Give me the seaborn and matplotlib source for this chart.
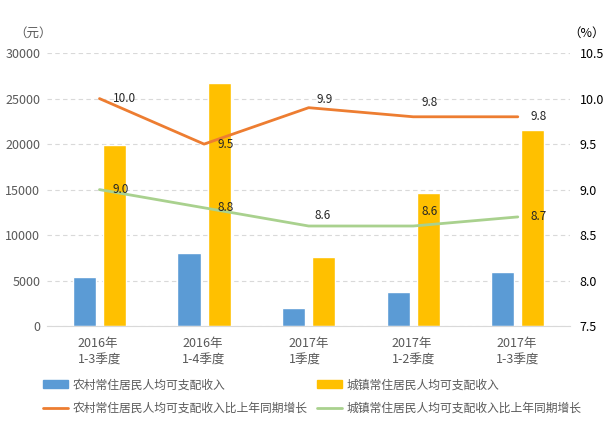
import numpy as np
import pandas as pd
import matplotlib
matplotlib.use("Agg")
import matplotlib.pyplot as plt
import seaborn as sns
from matplotlib.patches import Patch
from matplotlib.lines import Line2D

# ==============================
# Data
# ==============================
periods = ["2016年\n1-3季度", "2016年\n1-4季度", "2017年\n1季度", "2017年\n1-2季度", "2017年\n1-3季度"]
rural_income = [5400, 8000, 2000, 3750, 5950]
urban_income = [19900, 26700, 7600, 14600, 21500]
rural_growth = [10.0, 9.5, 9.9, 9.8, 9.8]
urban_growth = [9.0, 8.8, 8.6, 8.6, 8.7]

rural_name = "农村常住居民人均可支配收入"
urban_name = "城镇常住居民人均可支配收入"
rural_g_name = "农村常住居民人均可支配收入比上年同期增长"
urban_g_name = "城镇常住居民人均可支配收入比上年同期增长"

C_BLUE = "#5B9BD5"
C_GOLD = "#FFC000"
C_ORANGE = "#ED7D31"
C_GREEN = "#A9D18E"
TXT = "#595959"

sns.set_style("white")
plt.rcParams["font.family"] = ["Noto Sans CJK SC", "DejaVu Sans"]

df = pd.DataFrame({
    "period": periods * 2,
    "income": rural_income + urban_income,
    "kind": [rural_name] * len(periods) + [urban_name] * len(periods),
})

fig = plt.figure(figsize=(6.13, 4.28), dpi=100)
ax = fig.add_axes([0.077, 0.238, 0.853, 0.638])

sns.barplot(data=df, x="period", y="income", hue="kind", order=periods,
            palette=[C_BLUE, C_GOLD], saturation=1, width=0.577, gap=0.236,
            legend=False, ax=ax, zorder=2)

ax.set_ylim(0, 30000)
ax.set_yticks(np.arange(0, 30001, 5000))
ax.set_xlim(-0.5, len(periods) - 0.5)
ax.set_xlabel("")
ax.set_ylabel("")
ax.yaxis.grid(True, color="#D9D9D9", linestyle=(0, (4, 3)), linewidth=0.8, zorder=0)
ax.set_axisbelow(True)
for s in ["top", "left", "right"]:
    ax.spines[s].set_visible(False)
ax.spines["bottom"].set_color("#D9D9D9")
ax.tick_params(axis="y", length=0, labelsize=9, colors=TXT, pad=5)
ax.tick_params(axis="x", length=0, labelsize=9, colors=TXT, pad=8)
for lab in ax.get_xticklabels():
    lab.set_multialignment("left")
    lab.set_linespacing(1.3)

# ==============================
# Growth lines (right axis)
# ==============================
ax2 = ax.twinx()
xs = np.arange(len(periods))
sns.lineplot(x=xs, y=rural_growth, color=C_ORANGE, linewidth=2, ax=ax2, zorder=3)
sns.lineplot(x=xs, y=urban_growth, color=C_GREEN, linewidth=2, ax=ax2, zorder=3)
ax2.set_ylim(7.5, 10.5)
ax2.set_yticks(np.arange(7.5, 10.51, 0.5))
ax2.set_yticklabels([f"{v:.1f}" for v in np.arange(7.5, 10.51, 0.5)])
ax2.tick_params(axis="y", length=0, labelsize=9, colors="black", pad=7)
for s in ax2.spines.values():
    s.set_visible(False)

# label offsets in pixels (right of point, some lifted above)
r_off = [(13, 0), (13, 0), (8, 8), (8, 14), (13, 0)]
u_off = [(13, 0), (13, 0), (6, 11), (8, 15), (13, 0)]
for i in range(len(periods)):
    ax2.annotate(f"{rural_growth[i]:.1f}", (xs[i], rural_growth[i]), xytext=r_off[i],
                 textcoords="offset pixels", fontsize=8.5, va="center", ha="left")
    ax2.annotate(f"{urban_growth[i]:.1f}", (xs[i], urban_growth[i]), xytext=u_off[i],
                 textcoords="offset pixels", fontsize=8.5, va="center", ha="left")

fig.text(0.054, 0.923, "（元）", fontsize=9, color=TXT, ha="center", va="center")
fig.text(0.957, 0.923, "（%）", fontsize=9, color="black", ha="center", va="center")

handles = [
    Patch(color=C_BLUE, label=rural_name),
    Line2D([], [], color=C_ORANGE, linewidth=2, label=rural_g_name),
    Patch(color=C_GOLD, label=urban_name),
    Line2D([], [], color=C_GREEN, linewidth=2, label=urban_g_name),
]
fig.legend(handles=handles, ncol=2, loc="upper left", bbox_to_anchor=(0.07, 0.116),
           frameon=False, fontsize=8.5, labelcolor=TXT, handlelength=2.1,
           handleheight=0.6, columnspacing=0.8, handletextpad=0.42, labelspacing=0.9,
           borderaxespad=0, borderpad=0)

fig.savefig("out.png", dpi=100)
